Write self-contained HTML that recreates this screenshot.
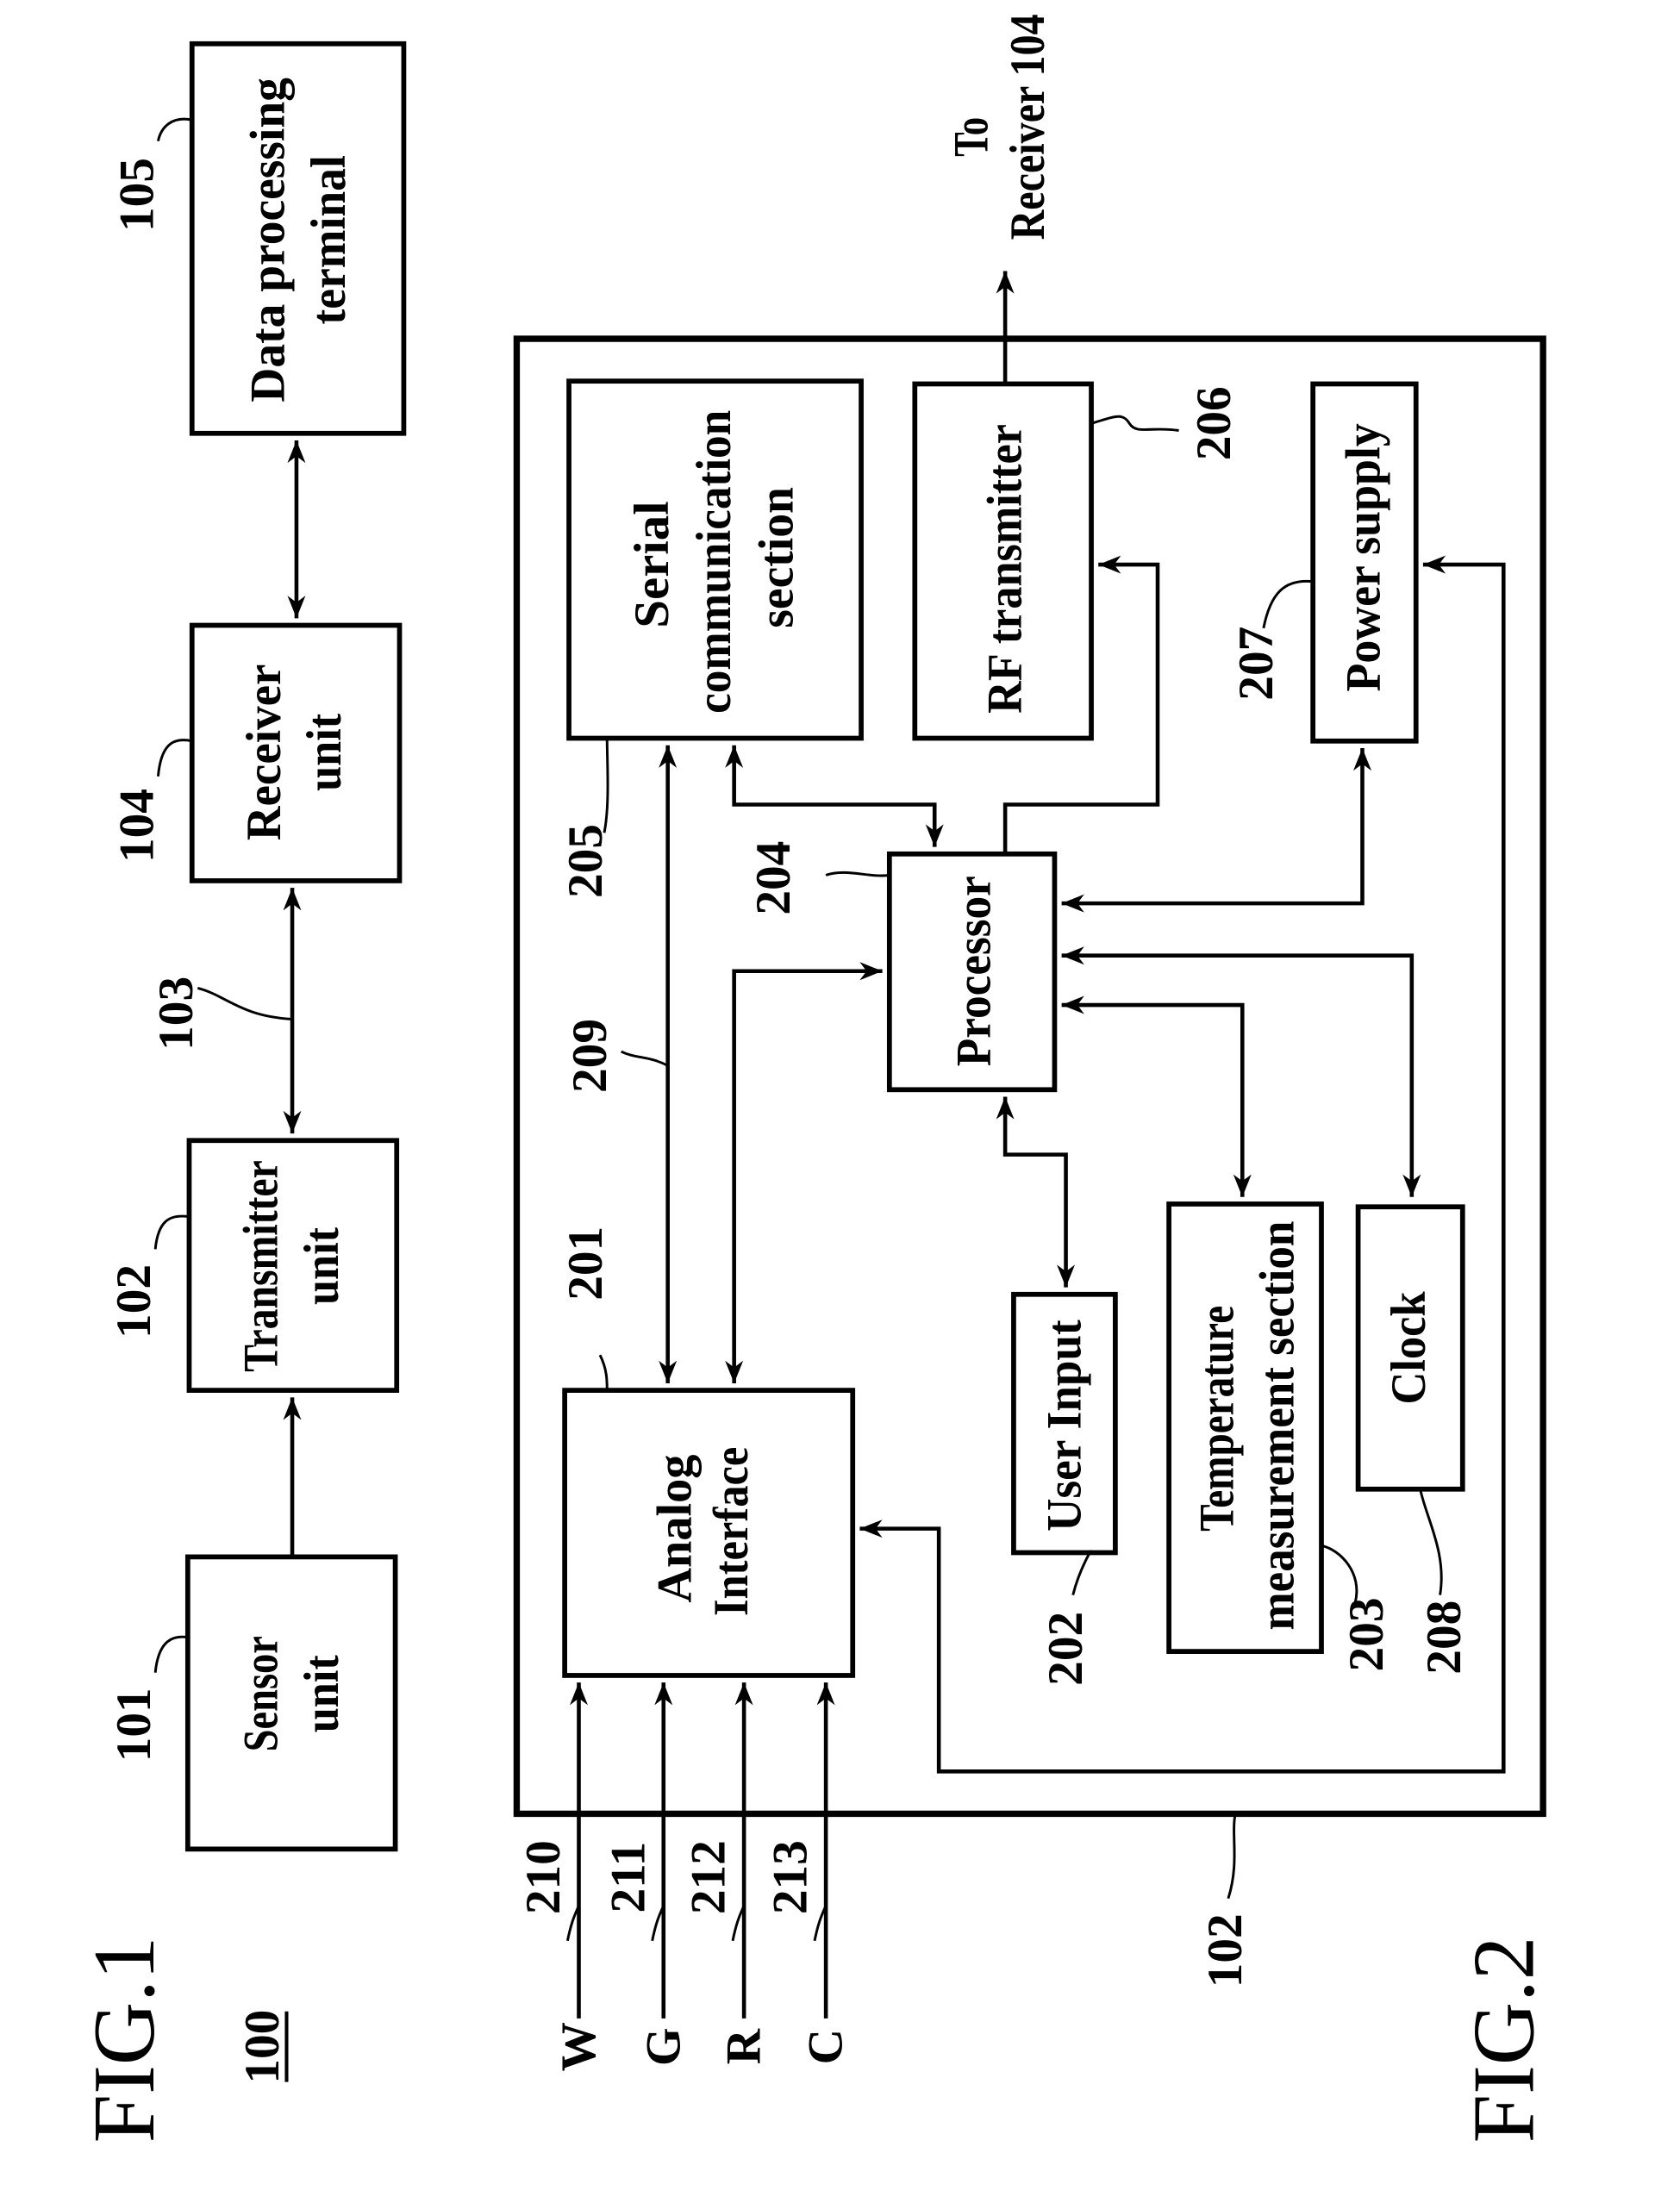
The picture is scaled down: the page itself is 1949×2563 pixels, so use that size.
<!DOCTYPE html>
<html><head><meta charset="utf-8"><style>
html,body{margin:0;padding:0;background:#fff}
svg{display:block}
text{font-family:"Liberation Serif",serif;font-weight:bold;fill:#000}
</style></head><body>
<svg width="1949" height="2563" viewBox="0 0 1190 1565" preserveAspectRatio="none" xmlns="http://www.w3.org/2000/svg">
<defs>
<marker id="b" viewBox="0 0 10 10" refX="10" refY="5" markerWidth="16" markerHeight="16" orient="auto-start-reverse" markerUnits="userSpaceOnUse"><path d="M0,1 L10,5 L0,9 L3,5 z" fill="#000"/></marker>
</defs>
<g fill="none" stroke="#000" stroke-width="3.5">
<rect x="133" y="1103" width="147" height="207"/>
<rect x="134" y="808" width="147" height="177"/>
<rect x="136" y="443" width="147" height="181"/>
<rect x="136" y="31" width="150" height="276"/>
<rect x="366" y="240" width="727" height="1045" stroke-width="4.5"/>
<rect x="403" y="270" width="207" height="253"/>
<rect x="648" y="272" width="125" height="251"/>
<rect x="930" y="272" width="73" height="253"/>
<rect x="630" y="605" width="117" height="167"/>
<rect x="400" y="985" width="204" height="202"/>
<rect x="718" y="917" width="72" height="183"/>
<rect x="828" y="853" width="108" height="317"/>
<rect x="962" y="855" width="74" height="200"/>
</g>
<g fill="none" stroke="#000" stroke-width="2.8">
<line x1="207" y1="1103" x2="207" y2="990" marker-end="url(#b)"/>
<line x1="207" y1="803" x2="207" y2="629" marker-start="url(#b)" marker-end="url(#b)"/>
<line x1="210" y1="438" x2="210" y2="312" marker-start="url(#b)" marker-end="url(#b)"/>
<line x1="712" y1="272" x2="712" y2="192" marker-end="url(#b)"/>
<line x1="473" y1="528" x2="473" y2="980" marker-start="url(#b)" marker-end="url(#b)"/>
<polyline points="520,528 520,570 662,570 662,600" marker-start="url(#b)" marker-end="url(#b)"/>
<polyline points="712,605 712,570 820,570 820,400 778,400" marker-end="url(#b)"/>
<polyline points="520,980 520,688 625,688" marker-start="url(#b)" marker-end="url(#b)"/>
<polyline points="752,640 965,640 965,530" marker-start="url(#b)" marker-end="url(#b)"/>
<polyline points="752,677 1000,677 1000,848" marker-start="url(#b)" marker-end="url(#b)"/>
<polyline points="752,712 880,712 880,848" marker-start="url(#b)" marker-end="url(#b)"/>
<polyline points="712,777 712,818 755,818 755,912" marker-start="url(#b)" marker-end="url(#b)"/>
<polyline points="609,1083 665,1083 665,1255 1065,1255 1065,400 1008,400" marker-start="url(#b)" marker-end="url(#b)"/>
<line x1="410" y1="1430" x2="410" y2="1192" marker-end="url(#b)"/>
<line x1="470" y1="1430" x2="470" y2="1192" marker-end="url(#b)"/>
<line x1="527" y1="1430" x2="527" y2="1192" marker-end="url(#b)"/>
<line x1="585" y1="1430" x2="585" y2="1192" marker-end="url(#b)"/>
</g>
<g fill="none" stroke="#000" stroke-width="1.8">
<path d="M110,1185 C112,1165 120,1158 133,1160"/>
<path d="M110,885 C112,865 120,860 134,862"/>
<path d="M112,550 C114,528 122,522 136,525"/>
<path d="M112,100 C114,90 122,82 136,85"/>
<path d="M140,700 C160,705 170,720 207,722"/>
<path d="M428,590 C432,570 430,540 430,523"/>
<path d="M630,620 C615,622 600,615 585,620"/>
<path d="M440,745 C450,750 460,748 473,755"/>
<path d="M425,960 C430,970 430,978 430,985"/>
<path d="M773,300 C790,295 795,292 800,300 C805,308 815,302 835,305"/>
<path d="M895,445 C900,420 910,410 930,412"/>
<path d="M760,1130 C765,1110 775,1095 772,1100"/>
<path d="M960,1135 C965,1115 950,1098 936,1095"/>
<path d="M1020,1130 C1025,1100 1010,1075 1006,1055"/>
<path d="M402,1375 C405,1360 408,1355 410,1350"/>
<path d="M462,1375 C465,1360 468,1355 470,1350"/>
<path d="M519,1375 C522,1360 525,1355 527,1350"/>
<path d="M577,1375 C580,1360 583,1355 585,1350"/>
<path d="M870,1345 C878,1320 872,1300 875,1285"/>
</g>
<g font-size="35" text-anchor="middle" dominant-baseline="central">
<text transform="translate(185,1200) rotate(-90)" textLength="82" lengthAdjust="spacingAndGlyphs">Sensor</text>
<text transform="translate(228,1200) rotate(-90)" textLength="55" lengthAdjust="spacingAndGlyphs">unit</text>
<text transform="translate(185,897) rotate(-90)" textLength="150" lengthAdjust="spacingAndGlyphs">Transmitter</text>
<text transform="translate(228,897) rotate(-90)" textLength="55" lengthAdjust="spacingAndGlyphs">unit</text>
<text transform="translate(187,533) rotate(-90)" textLength="125" lengthAdjust="spacingAndGlyphs">Receiver</text>
<text transform="translate(230,533) rotate(-90)" textLength="55" lengthAdjust="spacingAndGlyphs">unit</text>
<text transform="translate(190,170) rotate(-90)" textLength="230" lengthAdjust="spacingAndGlyphs">Data processing</text>
<text transform="translate(233,170) rotate(-90)" textLength="120" lengthAdjust="spacingAndGlyphs">terminal</text>
<text transform="translate(462,400) rotate(-90)" textLength="90" lengthAdjust="spacingAndGlyphs">Serial</text>
<text transform="translate(506,398) rotate(-90)" textLength="215" lengthAdjust="spacingAndGlyphs">communication</text>
<text transform="translate(550,395) rotate(-90)" textLength="100" lengthAdjust="spacingAndGlyphs">section</text>
<text transform="translate(712,403) rotate(-90)" textLength="205" lengthAdjust="spacingAndGlyphs">RF transmitter</text>
<text transform="translate(966,395) rotate(-90)" textLength="190" lengthAdjust="spacingAndGlyphs">Power supply</text>
<text transform="translate(690,688) rotate(-90)" textLength="135" lengthAdjust="spacingAndGlyphs">Processor</text>
<text transform="translate(478,1083) rotate(-90)" textLength="105" lengthAdjust="spacingAndGlyphs">Analog</text>
<text transform="translate(518,1085) rotate(-90)" textLength="120" lengthAdjust="spacingAndGlyphs">Interface</text>
<text transform="translate(754,1010) rotate(-90)" textLength="150" lengthAdjust="spacingAndGlyphs">User Input</text>
<text transform="translate(862,1005) rotate(-90)" textLength="160" lengthAdjust="spacingAndGlyphs">Temperature</text>
<text transform="translate(905,1010) rotate(-90)" textLength="290" lengthAdjust="spacingAndGlyphs">measurement section</text>
<text transform="translate(998,955) rotate(-90)" textLength="80" lengthAdjust="spacingAndGlyphs">Clock</text>
<text transform="translate(688,97) rotate(-90)" textLength="28" lengthAdjust="spacingAndGlyphs">To</text>
<text transform="translate(728,90) rotate(-90)" textLength="160" lengthAdjust="spacingAndGlyphs">Receiver 104</text>
<text transform="translate(95,1222) rotate(-90)">101</text>
<text transform="translate(95,922) rotate(-90)">102</text>
<text transform="translate(97,585) rotate(-90)">104</text>
<text transform="translate(97,138) rotate(-90)">105</text>
<text transform="translate(125,718) rotate(-90)">103</text>
<text transform="translate(415,610) rotate(-90)">205</text>
<text transform="translate(548,622) rotate(-90)">204</text>
<text transform="translate(418,748) rotate(-90)">209</text>
<text transform="translate(415,895) rotate(-90)">201</text>
<text transform="translate(860,300) rotate(-90)">206</text>
<text transform="translate(890,470) rotate(-90)">207</text>
<text transform="translate(755,1168) rotate(-90)">202</text>
<text transform="translate(968,1158) rotate(-90)">203</text>
<text transform="translate(1023,1160) rotate(-90)">208</text>
<text transform="translate(385,1330) rotate(-90)">210</text>
<text transform="translate(445,1330) rotate(-90)">211</text>
<text transform="translate(502,1330) rotate(-90)">212</text>
<text transform="translate(560,1330) rotate(-90)">213</text>
<text transform="translate(868,1382) rotate(-90)">102</text>
<text transform="translate(410,1450) rotate(-90)">W</text>
<text transform="translate(470,1450) rotate(-90)">G</text>
<text transform="translate(527,1450) rotate(-90)">R</text>
<text transform="translate(585,1450) rotate(-90)">C</text>
<text transform="translate(186,1450) rotate(-90)">100</text>
</g>
<line x1="203" y1="1475" x2="203" y2="1425" stroke="#000" stroke-width="2.5"/>
<g font-size="62" text-anchor="middle" dominant-baseline="central">
<text transform="translate(88,1445) rotate(-90)" style="font-weight:normal">FIG.1</text>
<text transform="translate(1065,1445) rotate(-90)" style="font-weight:normal">FIG.2</text>
</g>
</svg>
</body></html>
